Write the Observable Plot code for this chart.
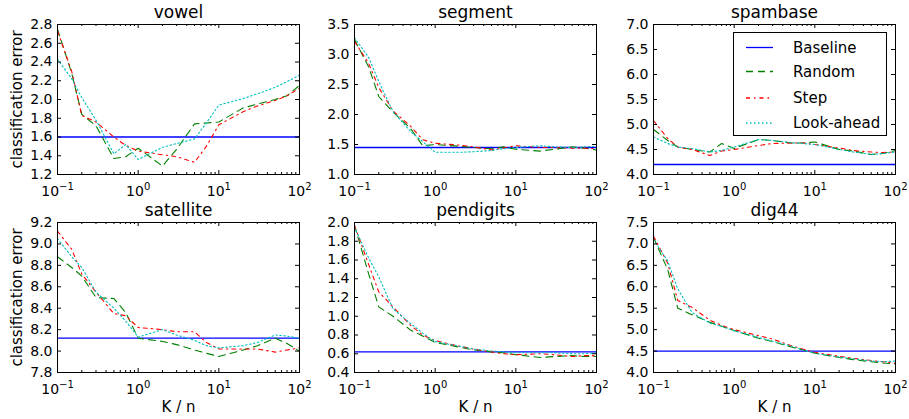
<!DOCTYPE html>
<html>
<head>
<meta charset="utf-8">
<script src="https://cdn.jsdelivr.net/npm/d3@7"></script>
<script src="https://cdn.jsdelivr.net/npm/@observablehq/plot@0.6"></script>
<style>
  html, body { margin: 0; padding: 0; background: #fff; }
  #chart { position: relative; width: 909px; height: 419px; overflow: hidden; font-family: "DejaVu Sans", sans-serif; }
  #chart svg { position: absolute; overflow: visible; }
</style>
</head>
<body>
<div id="chart"></div>
<script>
// ---- data ----
const K = [0.1, 0.15, 0.2, 0.3, 0.5, 0.7, 1, 2, 3, 5, 7, 10, 20, 30, 50, 70, 100];
const datasets = ["vowel", "segment", "spambase", "satellite", "pendigits", "dig44"];
const baseline = [1.6, 1.45, 4.2, 8.12, 0.62, 4.5];
const yTicks = [
  [1.2, 1.4, 1.6, 1.8, 2.0, 2.2, 2.4, 2.6, 2.8],
  [1.0, 1.5, 2.0, 2.5, 3.0, 3.5],
  [4.0, 4.5, 5.0, 5.5, 6.0, 6.5, 7.0],
  [7.8, 8.0, 8.2, 8.4, 8.6, 8.8, 9.0, 9.2],
  [0.4, 0.6, 0.8, 1.0, 1.2, 1.4, 1.6, 1.8, 2.0],
  [4.0, 4.5, 5.0, 5.5, 6.0, 6.5, 7.0, 7.5]
];
const xMajor = [0.1, 1, 10, 100];
const xTickLabels = ["10^−1", "10^0", "10^1", "10^2"];
const random = [
  [2.75, 2.28, 1.84, 1.72, 1.37, 1.39, 1.48, 1.29, 1.47, 1.74, 1.75, 1.76, 1.91, 1.95, 2.00, 2.04, 2.15],
  [3.25, 2.79, 2.30, 2.04, 1.76, 1.48, 1.50, 1.47, 1.45, 1.43, 1.46, 1.42, 1.39, 1.42, 1.46, 1.44, 1.41],
  [4.90, 4.68, 4.55, 4.50, 4.45, 4.62, 4.52, 4.70, 4.68, 4.63, 4.63, 4.65, 4.50, 4.47, 4.40, 4.42, 4.48],
  [8.88, 8.78, 8.70, 8.50, 8.49, 8.36, 8.12, 8.09, 8.06, 8.01, 7.98, 7.95, 8.01, 8.05, 8.12, 8.07, 8.00],
  [1.97, 1.45, 1.10, 1.00, 0.85, 0.79, 0.72, 0.67, 0.64, 0.62, 0.61, 0.59, 0.56, 0.57, 0.58, 0.57, 0.57],
  [7.15, 6.40, 5.50, 5.35, 5.17, 5.08, 4.98, 4.80, 4.72, 4.60, 4.53, 4.45, 4.35, 4.30, 4.25, 4.22, 4.20]
];
const step = [
  [2.73, 2.30, 1.83, 1.76, 1.60, 1.51, 1.45, 1.41, 1.39, 1.33, 1.50, 1.73, 1.87, 1.93, 1.99, 2.04, 2.12],
  [3.22, 2.85, 2.45, 2.06, 1.80, 1.58, 1.52, 1.49, 1.46, 1.41, 1.44, 1.48, 1.45, 1.45, 1.44, 1.44, 1.43],
  [5.08, 4.72, 4.55, 4.50, 4.38, 4.47, 4.50, 4.58, 4.62, 4.63, 4.63, 4.60, 4.53, 4.48, 4.45, 4.44, 4.45],
  [9.12, 8.95, 8.72, 8.55, 8.35, 8.33, 8.22, 8.20, 8.18, 8.18, 8.08, 8.02, 8.02, 8.02, 7.99, 8.01, 8.03],
  [1.97, 1.55, 1.26, 1.10, 0.90, 0.80, 0.74, 0.68, 0.65, 0.62, 0.60, 0.59, 0.60, 0.59, 0.57, 0.58, 0.58],
  [7.18, 6.55, 5.68, 5.52, 5.22, 5.10, 5.00, 4.86, 4.78, 4.63, 4.55, 4.47, 4.38, 4.33, 4.28, 4.25, 4.22]
];
const lookahead = [
  [2.43, 2.22, 2.02, 1.78, 1.42, 1.52, 1.36, 1.49, 1.53, 1.58, 1.75, 1.94, 2.01, 2.06, 2.13, 2.19, 2.26],
  [3.28, 2.95, 2.55, 2.05, 1.71, 1.55, 1.37, 1.37, 1.38, 1.40, 1.43, 1.45, 1.48, 1.46, 1.45, 1.46, 1.47],
  [4.75, 4.62, 4.55, 4.52, 4.45, 4.48, 4.55, 4.70, 4.68, 4.64, 4.62, 4.60, 4.50, 4.45, 4.40, 4.42, 4.45],
  [9.05, 8.88, 8.78, 8.55, 8.40, 8.28, 8.13, 8.20, 8.15, 8.10, 8.05, 8.03, 8.05, 8.08, 8.15, 8.14, 8.12],
  [1.95, 1.62, 1.42, 1.08, 0.92, 0.82, 0.73, 0.68, 0.65, 0.63, 0.62, 0.61, 0.61, 0.61, 0.60, 0.60, 0.61],
  [7.10, 6.60, 5.95, 5.40, 5.15, 5.08, 4.97, 4.82, 4.73, 4.62, 4.53, 4.45, 4.36, 4.32, 4.27, 4.25, 4.27]
];
const seriesNames = ["Random", "Step", "Look-ahead"];
const seriesValues = [random, step, lookahead];

// ---- styles ----
const baseColor = "#0000ff";
const seriesStyle = {
  "Random": {stroke: "#008000", dash: "7,5"},
  "Step": {stroke: "#ff0000", dash: "4,4,1.5,4"},
  "Look-ahead": {stroke: "#00bfbf", dash: "1.5,2.5"}
};

// ---- layout ----
const W = 242, H = 150, ML = 45, MR = 15, MT = 24, MB = 30;
const colX = [57, 354, 653], rowY = [24, 222];
const xMinor = [];
[0.1, 1, 10].forEach(d => { for (let m = 2; m <= 9; m++) xMinor.push(+(d * m).toPrecision(3)); });

const chart = document.getElementById("chart");

datasets.forEach((name, i) => {
  const col = i % 3, row = Math.floor(i / 3);
  const rows = [];
  seriesNames.forEach((s, si) => K.forEach((k, j) => rows.push({k, v: seriesValues[si][i][j], s})));
  const yt = yTicks[i];
  const marks = [
    Plot.ruleY([baseline[i]], {stroke: baseColor, strokeWidth: 1.3}),
    ...seriesNames.map(s => Plot.line(rows.filter(r => r.s === s), {
      x: "k", y: "v", stroke: seriesStyle[s].stroke, strokeWidth: 1.1,
      strokeDasharray: seriesStyle[s].dash, clip: true
    })),
    Plot.frame({stroke: "black", strokeWidth: 1}),
    // inward ticks on all four sides
    Plot.tickX(xMajor, {x: d => d, insetTop: H - 4, stroke: "black"}),
    Plot.tickX(xMajor, {x: d => d, insetBottom: H - 4, stroke: "black"}),
    Plot.tickX(xMinor, {x: d => d, insetTop: H - 2, stroke: "black"}),
    Plot.tickX(xMinor, {x: d => d, insetBottom: H - 2, stroke: "black"}),
    Plot.tickY(yt, {y: d => d, insetRight: W - 4, stroke: "black"}),
    Plot.tickY(yt, {y: d => d, insetLeft: W - 4, stroke: "black"}),
    Plot.axisX(xMajor, {tickSize: 0, tickPadding: 12, tickFormat: d => xTickLabels[xMajor.indexOf(d)], label: null, fontSize: 14}),
    Plot.axisY(yt, {tickSize: 0, tickPadding: 5, tickFormat: d3.format(".1f"), label: null, fontSize: 14}),
    Plot.text([name], {frameAnchor: "top", dy: -12, lineAnchor: "middle", textAnchor: "middle", fontSize: 17, fill: "black"})
  ];
  if (col === 0) marks.push(Plot.text(["classification error"], {frameAnchor: "left", dx: -40, rotate: -90, fontSize: 15, fill: "black", textAnchor: "middle", lineAnchor: "middle"}));
  if (row === 1) marks.push(Plot.text(["K / n"], {frameAnchor: "bottom", dy: 35, fontSize: 15, fill: "black", textAnchor: "middle", lineAnchor: "middle"}));

  const svg = Plot.plot({
    width: ML + W + MR, height: MT + H + MB,
    marginLeft: ML, marginRight: MR, marginTop: MT, marginBottom: MB,
    x: {type: "log", domain: [0.1, 100], label: null},
    y: {domain: [yt[0], yt[yt.length - 1]], label: null},
    style: {fontFamily: "DejaVu Sans, sans-serif", fontSize: "14px", color: "black", background: "transparent", overflow: "visible"},
    marks
  });
  svg.style.left = (colX[col] - ML) + "px";
  svg.style.top = (rowY[row] - MT) + "px";
  // superscript exponents on log-axis labels
  svg.querySelectorAll('[aria-label="x-axis tick label"] text').forEach(t => {
    const parts = t.textContent.split("^");
    if (parts.length === 2) {
      t.textContent = parts[0];
      const ts = document.createElementNS("http://www.w3.org/2000/svg", "tspan");
      ts.setAttribute("dy", "-6");
      ts.setAttribute("font-size", "10");
      ts.textContent = parts[1];
      t.appendChild(ts);
    }
  });
  chart.appendChild(svg);
});

// ---- legend (inside the spambase panel) ----
const ns = "http://www.w3.org/2000/svg";
const leg = document.createElementNS(ns, "svg");
leg.setAttribute("width", 155); leg.setAttribute("height", 105);
leg.style.left = "733px"; leg.style.top = "32px";
const rect = document.createElementNS(ns, "rect");
rect.setAttribute("x", 0.5); rect.setAttribute("y", 0.5);
rect.setAttribute("width", 153); rect.setAttribute("height", 103);
rect.setAttribute("fill", "white"); rect.setAttribute("stroke", "black");
leg.appendChild(rect);
const legendItems = [
  {label: "Baseline", stroke: baseColor, dash: null},
  ...seriesNames.map(s => ({label: s, stroke: seriesStyle[s].stroke, dash: seriesStyle[s].dash}))
];
const legY = [15.5, 39.5, 66, 91];
legendItems.forEach((it, j) => {
  const ln = document.createElementNS(ns, "line");
  ln.setAttribute("x1", 13); ln.setAttribute("x2", 40);
  ln.setAttribute("y1", legY[j]); ln.setAttribute("y2", legY[j]);
  ln.setAttribute("stroke", it.stroke); ln.setAttribute("stroke-width", 1.3);
  if (it.dash) ln.setAttribute("stroke-dasharray", it.dash);
  leg.appendChild(ln);
  const tx = document.createElementNS(ns, "text");
  tx.setAttribute("x", 60); tx.setAttribute("y", legY[j]);
  tx.setAttribute("dy", "0.36em");
  tx.setAttribute("font-size", 15);
  tx.setAttribute("font-family", "DejaVu Sans, sans-serif");
  tx.textContent = it.label;
  leg.appendChild(tx);
});
chart.appendChild(leg);
</script>
</body>
</html>
